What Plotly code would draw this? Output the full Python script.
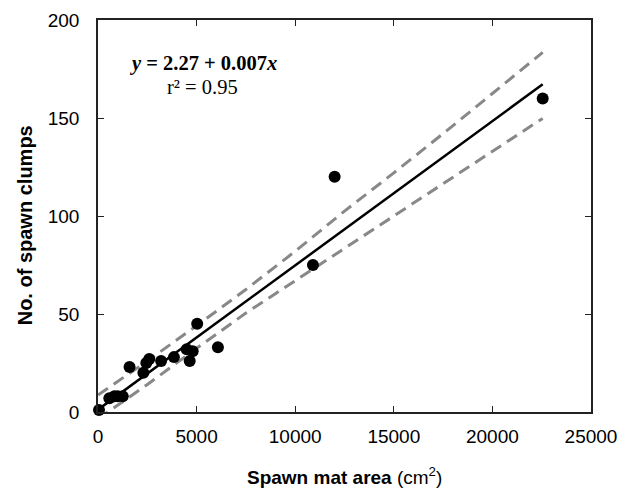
import plotly.graph_objects as go

# Observed data points
area = [50, 575, 830, 1000, 1254, 1600, 2300, 2450, 2600, 3200, 3850, 4500, 4650, 4800, 5030, 6080, 10900, 12000, 22550]
clumps = [1, 7, 8, 8, 8, 23, 20, 25, 27, 26, 28, 32, 26, 31, 45, 33, 75, 120, 160]

# Regression line and confidence bands
fit_x = [0, 22550]
fit_y = [1.2, 167.2]
band_x = [0, 2500, 5000, 7500, 10000, 12500, 15000, 17500, 20000, 22550]
band_upper = [8.7, 26, 44, 62.5, 82, 102.5, 122, 142, 162.5, 183.5]
band_lower = [-3.5, 14, 32.5, 50.5, 67, 83.5, 100, 116.5, 133, 149.8]

x_ticks = [0, 5000, 10000, 15000, 20000, 25000]
y_ticks = [0, 50, 100, 150, 200]

SANS = "Liberation Sans, Arial, Helvetica"
SERIF = "Liberation Serif, Times New Roman, Times"

fig = go.Figure()
dash_style = dict(color="#888888", width=3, dash="12px,7px")
fig.add_trace(go.Scatter(x=band_x, y=band_upper, mode="lines", line=dash_style, showlegend=False))
fig.add_trace(go.Scatter(x=band_x, y=band_lower, mode="lines", line=dash_style, showlegend=False))
fig.add_trace(go.Scatter(x=fit_x, y=fit_y, mode="lines", line=dict(color="black", width=2.5), showlegend=False))
fig.add_trace(go.Scatter(x=area, y=clumps, mode="markers", cliponaxis=False,
                         marker=dict(color="black", size=12), showlegend=False))

axis_common = dict(showgrid=False, zeroline=False, showline=True, linecolor="#222222", linewidth=1.5,
                   mirror="ticks", ticks="inside", ticklen=6, tickwidth=1.2, tickcolor="#222222",
                   automargin=False,
                   tickfont=dict(family=SANS, size=19, color="black"))

fig.update_xaxes(range=[0, 25000], tickvals=x_ticks, ticktext=[str(v) for v in x_ticks],
                 ticklabelstandoff=6, **axis_common)
fig.update_yaxes(range=[0, 200], tickvals=y_ticks, ticktext=[str(v) for v in y_ticks],
                 ticklabelstandoff=13, **axis_common)

# Axis titles
fig.add_annotation(x=0.5, y=-0.163, xref="paper", yref="paper", showarrow=False,
                   xanchor="center", yanchor="middle",
                   text="<b>Spawn mat area</b> (cm<sup>2</sup>)",
                   font=dict(family=SANS, size=19, color="black"))
fig.add_annotation(x=-0.1475, y=0.477, xref="paper", yref="paper", showarrow=False,
                   xanchor="center", yanchor="middle", textangle=-90,
                   text="<b>No. of spawn clumps</b>",
                   font=dict(family=SANS, size=20, color="black"))

# Regression equation
fig.add_annotation(x=0.2136, y=0.888, xref="paper", yref="paper", showarrow=False,
                   xanchor="center", yanchor="middle",
                   text="<b><i>y</i> = 2.27 + 0.007<i>x</i></b>",
                   font=dict(family=SERIF, size=20.5, color="black"))
fig.add_annotation(x=0.2116, y=0.829, xref="paper", yref="paper", showarrow=False,
                   xanchor="center", yanchor="middle",
                   text="r² = 0.95",
                   font=dict(family=SERIF, size=20.5, color="black"))

fig.update_layout(width=619, height=489, margin=dict(l=98, r=28, t=20, b=77),
                  plot_bgcolor="white", paper_bgcolor="white")

# remove the default 8px page margin so the figure fills the window exactly
fig.write_html("out.html", config={"displayModeBar": False},
               post_script="document.body.style.margin='0';document.body.style.overflow='hidden';")
